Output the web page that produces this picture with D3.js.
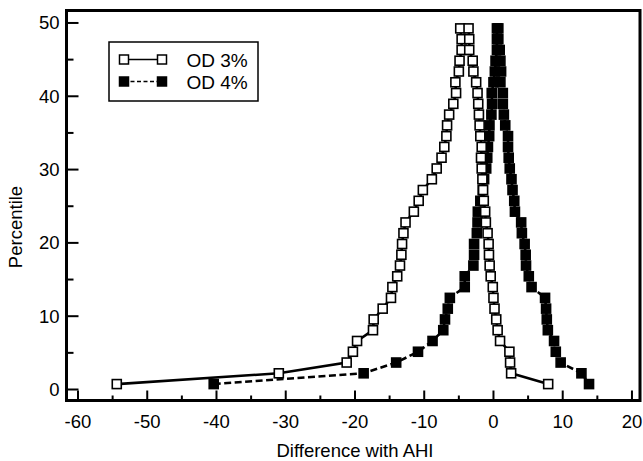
<!DOCTYPE html>
<html>
<head>
    <meta charset="utf-8">
    <script src="https://d3js.org/d3.v7.min.js" type="text/javascript"></script>
    <style>
        body {
            margin: 0;
            background: #fff;
        }
        svg {
            font-family: "Liberation Sans", Arial, sans-serif;
        }
        .frame {
            fill: none;
            stroke: #000;
            stroke-width: 3px;
        }
        .tick {
            stroke: #000;
            stroke-width: 2px;
        }
        .ticklab {
            font-size: 18.5px;
            fill: #000;
        }
    </style>
</head>
<body>
    <div id="chart"></div>
    <script type="text/javascript">
    // percentile levels of the folded (mountain) curve
    var pctLevels = [0.74, 2.21, 3.68, 5.15, 6.62, 8.09, 9.56, 11.03, 12.50, 13.97, 15.44, 16.91,
        18.38, 19.85, 21.32, 22.79, 24.26, 25.74, 27.21, 28.68, 30.15, 31.62, 33.09, 34.56,
        36.03, 37.50, 38.97, 40.44, 41.91, 43.38, 44.85, 46.32, 47.79, 49.26];

    // OD 3%: lower tail (left) and upper tail (right), same order as pctLevels
    var od3Left = [-54.4, -31.0, -21.2, -20.3, -19.7, -17.4, -17.3, -16.0, -14.8, -14.6, -13.9, -13.5,
        -13.3, -13.2, -13.0, -12.7, -11.5, -10.8, -10.2, -8.9, -8.2, -7.5, -7.1, -6.8,
        -6.7, -6.4, -5.8, -5.4, -5.5, -5.0, -4.9, -4.6, -4.6, -4.8];
    var od3Right = [7.9, 2.55, 2.4, 2.3, 0.95, 0.6, 0.4, 0.15, 0.0, -0.1, -0.4, -0.55,
        -0.65, -0.7, -0.85, -1.1, -1.2, -1.4, -1.5, -1.6, -1.7, -1.8, -1.7, -1.9,
        -2.0, -2.1, -2.2, -2.3, -2.5, -2.9, -3.0, -3.5, -3.5, -3.6];

    // OD 4%
    var od4Left = [-40.4, -18.75, -14.05, -10.9, -8.8, -7.25, -7.0, -6.6, -6.3, -4.15, -4.15, -2.9,
        -2.8, -2.8, -2.4, -2.3, -2.26, -1.9, -1.55, -1.35, -1.05, -0.9, -0.8, -0.62,
        -0.58, -0.3, -0.2, -0.25, 0.0, 0.2, 0.3, 0.5, 0.5, 0.5];
    var od4Right = [13.8, 12.7, 9.7, 9.0, 8.75, 7.85, 7.7, 7.6, 7.45, 5.5, 5.1, 4.7,
        4.65, 4.5, 4.1, 4.0, 3.1, 3.0, 2.75, 2.6, 2.35, 2.2, 2.1, 2.1,
        1.7, 1.5, 1.35, 1.35, 1.0, 1.1, 1.0, 0.9, 0.7, 0.7];

    var xMajor = [-60, -50, -40, -30, -20, -10, 0, 10, 20];
    var xMinor = [-55, -45, -35, -25, -15, -5, 5, 15];
    var yMajor = [0, 10, 20, 30, 40, 50];
    var yMinor = [5, 15, 25, 35, 45];
    var seriesNames = ["OD 3%", "OD 4%"];

    var width = 643, height = 461;
    var plot = { left: 66.5, right: 640, top: 10.5, bottom: 400.5 };

    var x = d3.scaleLinear().domain([-61.66, 21.16]).range([plot.left, plot.right]);
    var y = d3.scaleLinear().domain([-1.5, 51.7]).range([plot.bottom, plot.top]);

    var svg = d3.select("#chart").append("svg")
        .attr("width", width)
        .attr("height", height);

    // left branch goes up, right branch comes back down
    function mountain(left, right) {
        var pts = left.map(function(v, i) { return [v, pctLevels[i]]; });
        for (var i = right.length - 1; i >= 0; i--) {
            pts.push([right[i], pctLevels[i]]);
        }
        return pts;
    }

    var series = [
        { name: seriesNames[1], pts: mountain(od4Left, od4Right), fill: "#000", dash: "7,3.5" },
        { name: seriesNames[0], pts: mountain(od3Left, od3Right), fill: "#fff", dash: null }
    ];

    var line = d3.line()
        .x(function(d) { return x(d[0]); })
        .y(function(d) { return y(d[1]); });

    var sq = 9;

    series.forEach(function(s) {
        svg.append("path")
            .datum(s.pts)
            .attr("d", line)
            .attr("fill", "none")
            .attr("stroke", "#000")
            .attr("stroke-width", 2.6)
            .attr("stroke-dasharray", s.dash);

        svg.append("g").selectAll("rect")
            .data(s.pts)
            .enter()
            .append("rect")
            .attr("x", function(d) { return x(d[0]) - sq / 2; })
            .attr("y", function(d) { return y(d[1]) - sq / 2; })
            .attr("width", sq)
            .attr("height", sq)
            .attr("fill", s.fill)
            .attr("stroke", "#000")
            .attr("stroke-width", 1.6);
    });

    // ticks (inside the frame, bottom and left only)
    svg.append("g").selectAll("line")
        .data(xMajor.map(function(v) { return [v, 10]; }).concat(xMinor.map(function(v) { return [v, 5]; })))
        .enter()
        .append("line")
        .attr("class", "tick")
        .attr("x1", function(d) { return x(d[0]); })
        .attr("x2", function(d) { return x(d[0]); })
        .attr("y1", plot.bottom)
        .attr("y2", function(d) { return plot.bottom - d[1]; });

    svg.append("g").selectAll("line")
        .data(yMajor.map(function(v) { return [v, 12]; }).concat(yMinor.map(function(v) { return [v, 7]; })))
        .enter()
        .append("line")
        .attr("class", "tick")
        .attr("y1", function(d) { return y(d[0]); })
        .attr("y2", function(d) { return y(d[0]); })
        .attr("x1", plot.left)
        .attr("x2", function(d) { return plot.left + d[1]; });

    svg.append("rect")
        .attr("class", "frame")
        .attr("x", plot.left)
        .attr("y", plot.top)
        .attr("width", plot.right - plot.left)
        .attr("height", plot.bottom - plot.top);

    svg.append("g").selectAll("text")
        .data(xMajor)
        .enter()
        .append("text")
        .attr("class", "ticklab")
        .attr("x", function(d) { return x(d); })
        .attr("y", 428)
        .attr("text-anchor", "middle")
        .text(function(d) { return d; });

    svg.append("g").selectAll("text")
        .data(yMajor)
        .enter()
        .append("text")
        .attr("class", "ticklab")
        .attr("x", 59.5)
        .attr("y", function(d) { return y(d); })
        .attr("dy", "0.35em")
        .attr("text-anchor", "end")
        .text(function(d) { return d; });

    svg.append("text")
        .attr("class", "ticklab")
        .attr("x", 355)
        .attr("y", 456.5)
        .attr("text-anchor", "middle")
        .text("Difference with AHI");

    svg.append("text")
        .attr("class", "ticklab")
        .attr("transform", "translate(22,227) rotate(-90)")
        .attr("text-anchor", "middle")
        .text("Percentile");

    // legend
    var leg = svg.append("g");
    leg.append("rect")
        .attr("x", 109)
        .attr("y", 42)
        .attr("width", 149)
        .attr("height", 59)
        .attr("fill", "#fff")
        .attr("stroke", "#000")
        .attr("stroke-width", 1.5);

    var legRows = [
        { name: seriesNames[0], fill: "#fff", dash: null, y: 59.5 },
        { name: seriesNames[1], fill: "#000", dash: "4,2.5", y: 81.5 }
    ];
    legRows.forEach(function(r) {
        leg.append("line")
            .attr("x1", 124).attr("x2", 162)
            .attr("y1", r.y).attr("y2", r.y)
            .attr("stroke", "#000")
            .attr("stroke-width", 1.5)
            .attr("stroke-dasharray", r.dash);
        [124, 162].forEach(function(px) {
            leg.append("rect")
                .attr("x", px - 4.5).attr("y", r.y - 4.5)
                .attr("width", 9).attr("height", 9)
                .attr("fill", r.fill)
                .attr("stroke", "#000")
                .attr("stroke-width", 1.5);
        });
        leg.append("text")
            .attr("x", 186.5)
            .attr("y", r.y + 7)
            .attr("font-size", "19px")
            .text(r.name);
    });
    </script>
</body>
</html>
